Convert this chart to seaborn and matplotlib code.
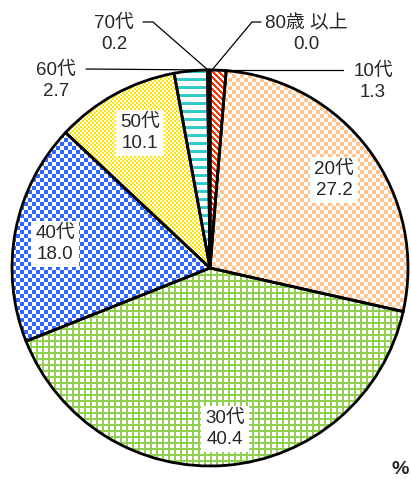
import numpy as np
import matplotlib
matplotlib.use("Agg")
import matplotlib.pyplot as plt
import seaborn as sns

sns.set_theme(style="white")
plt.rcParams["font.family"] = ["Liberation Sans", "Noto Sans CJK JP", "DejaVu Sans"]

# ---- data ----
labels = ["10代", "20代", "30代", "40代", "50代", "60代", "70代", "80歳 以上"]
values = [1.3, 27.2, 40.4, 18.0, 10.1, 2.7, 0.2, 0.0]
value_text = ["1.3", "27.2", "40.4", "18.0", "10.1", "2.7", "0.2", "0.0"]

W, H = 411, 479
CX, CY, R = 210, 268, 198  # pie centre / radius in pixels

fig = plt.figure(figsize=(W / 100, H / 100), dpi=100)
ax = fig.add_axes([(CX - R) / W, (H - CY - R) / H, 2 * R / W, 2 * R / H])

wedges, _ = ax.pie(values, startangle=90, counterclock=False, radius=1,
                   normalize=True,
                   wedgeprops=dict(facecolor="none", edgecolor="black",
                                   linewidth=2.0, zorder=3))
ax.set_xlim(-1, 1)
ax.set_ylim(-1, 1)
ax.set_aspect("equal")
ax.axis("off")

# ---- fill textures ----
N = 2 * R
ii, jj = np.mgrid[0:N, 0:N]


def hexrgb(h):
    h = h.lstrip("#")
    return np.array([int(h[k:k + 2], 16) / 255 for k in (0, 2, 4)])


def pattern(mask, c1, c2="#FFFFFF"):
    return np.where(mask[..., None], hexrgb(c1), hexrgb(c2))


patterns = [
    pattern(((jj - ii) % 6) < 3, "#FF3300"),
    pattern(((ii // 4 + jj // 4) % 2) == 0, "#FFC590"),
    pattern((ii % 6 < 2) | (jj % 6 < 2), "#92D050"),
    pattern(((ii // 4 + jj // 4) % 2) == 0, "#3366FF"),
    pattern(((ii // 2 + jj // 2) % 2) == 0, "#FFE500"),
    pattern(ii % 8 < 3, "#33CCCC"),
    pattern(np.ones((N, N), bool), "#000000"),
    pattern(np.ones((N, N), bool), "#000000"),
]

for w, img in zip(wedges, patterns):
    im = ax.imshow(img, extent=[-1, 1, -1, 1], origin="upper",
                   interpolation="nearest", zorder=1)
    im.set_clip_path(w)
ax.set_xlim(-1, 1)
ax.set_ylim(-1, 1)


def P(px, py):
    return ((px - CX) / R, (CY - py) / R)


FS = 13.5
LS = 1.3
# inside labels (white boxes)
inside = {1: (334, 180), 2: (225, 429), 3: (55, 244), 4: (140, 133)}
for k, (px, py) in inside.items():
    x, y = P(px, py)
    ax.text(x, y, f"{labels[k]}\n{value_text[k]}", ha="center", va="center",
            fontsize=FS, linespacing=LS, zorder=5,
            bbox=dict(facecolor="white", edgecolor="none", pad=3))

# outside labels with leader lines
lw = 0.9
leaders = {
    0: ([(212, 70), (343, 70)], (373, 82)),
    5: ([(208, 70), (86, 69)], (56, 81)),
    6: ([(208, 70), (153, 22), (143, 22)], (114, 34)),
    7: ([(212, 70), (252, 22), (261, 22)], (306, 34)),
}
for k, (pts, (tx, ty)) in leaders.items():
    xs, ys = zip(*[P(a, b) for a, b in pts])
    ax.plot(xs, ys, color="black", lw=lw, clip_on=False, zorder=4)
    x, y = P(tx, ty)
    ax.text(x, y, f"{labels[k]}\n{value_text[k]}", ha="center", va="center",
            fontsize=FS, linespacing=LS, zorder=5)

fig.text(400 / W, 1 - 469 / H, "%", ha="center", va="center",
         fontsize=14, fontweight="bold")

fig.savefig("out.png", dpi=100, facecolor="white")
